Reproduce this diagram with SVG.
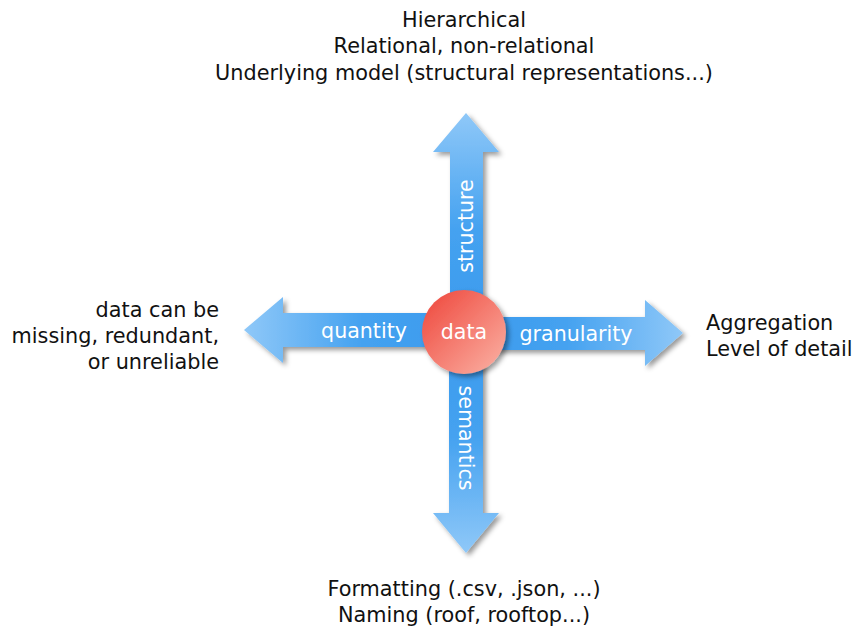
<svg xmlns="http://www.w3.org/2000/svg" width="853" height="627" viewBox="0 0 853 627">
<defs>
<style>
.lbl{font-family:"DejaVu Sans",sans-serif;font-size:20.8px;fill:#111}
.in{font-family:"DejaVu Sans",sans-serif;font-size:20.6px;fill:#fff}
</style>
<linearGradient id="gUp" x1="0" y1="0" x2="0" y2="1"><stop offset="0" stop-color="#8fc8f8"/><stop offset="0.6" stop-color="#45a2f0"/><stop offset="1" stop-color="#3d9cee"/></linearGradient>
<linearGradient id="gDown" x1="0" y1="1" x2="0" y2="0"><stop offset="0" stop-color="#8fc8f8"/><stop offset="0.6" stop-color="#45a2f0"/><stop offset="1" stop-color="#3d9cee"/></linearGradient>
<linearGradient id="gLeft" x1="0" y1="0" x2="1" y2="0"><stop offset="0" stop-color="#8fc8f8"/><stop offset="0.6" stop-color="#45a2f0"/><stop offset="1" stop-color="#3d9cee"/></linearGradient>
<linearGradient id="gRight" x1="1" y1="0" x2="0" y2="0"><stop offset="0" stop-color="#8fc8f8"/><stop offset="0.6" stop-color="#45a2f0"/><stop offset="1" stop-color="#3d9cee"/></linearGradient>
<linearGradient id="gCirc" x1="0.15" y1="0.15" x2="0.85" y2="0.85"><stop offset="0" stop-color="#f0554a"/><stop offset="1" stop-color="#f9a396"/></linearGradient>
<filter id="sh" x="-20%" y="-20%" width="140%" height="140%"><feDropShadow dx="3" dy="3" stdDeviation="2.5" flood-color="#000" flood-opacity="0.4"/></filter>
</defs>
<g id="connectors">
<g id="arrow-structure"><path d="M450,305 V152 H433 L466,113 L499,152 H483 V305 Z" fill="url(#gUp)" filter="url(#sh)"/></g>
<g id="arrow-semantics"><path d="M449,360 V513 H433 L466,553 L499,513 H483 V360 Z" fill="url(#gDown)" filter="url(#sh)"/></g>
<g id="arrow-quantity"><path d="M440,313 H283 V297 L244,330 L283,363 V347 H440 Z" fill="url(#gLeft)" filter="url(#sh)"/></g>
<g id="arrow-granularity"><path d="M490,317 H645 V300 L683,333 L645,366 V350 H490 Z" fill="url(#gRight)" filter="url(#sh)"/></g>
<text class="in" transform="translate(473,226) rotate(-90)" text-anchor="middle">structure</text>
<text class="in" transform="translate(459,438) rotate(90)" text-anchor="middle">semantics</text>
<text class="in" x="364" y="338" text-anchor="middle">quantity</text>
<text class="in" x="576" y="341" text-anchor="middle">granularity</text>
</g>
<g id="node-data">
<circle cx="464" cy="332" r="42" fill="url(#gCirc)" filter="url(#sh)"/>
<text class="in" x="464" y="339" text-anchor="middle" font-size="20.6">data</text>
</g>
<g id="node-top">
<text class="lbl" text-anchor="middle" x="464"><tspan x="464" y="27">Hierarchical</tspan><tspan x="464" y="53">Relational, non-relational</tspan><tspan x="464" y="80">Underlying model (structural representations...)</tspan></text>
</g>
<g id="node-left">
<text class="lbl" text-anchor="end"><tspan x="219" y="317">data can be</tspan><tspan x="219" y="343">missing, redundant,</tspan><tspan x="219" y="369">or unreliable</tspan></text>
</g>
<g id="node-right">
<text class="lbl"><tspan x="706" y="330">Aggregation</tspan><tspan x="706" y="356">Level of detail</tspan></text>
</g>
<g id="node-bottom">
<text class="lbl" text-anchor="middle"><tspan x="464" y="596">Formatting (.csv, .json, ...)</tspan><tspan x="464" y="622">Naming (roof, rooftop...)</tspan></text>
</g>
</svg>
